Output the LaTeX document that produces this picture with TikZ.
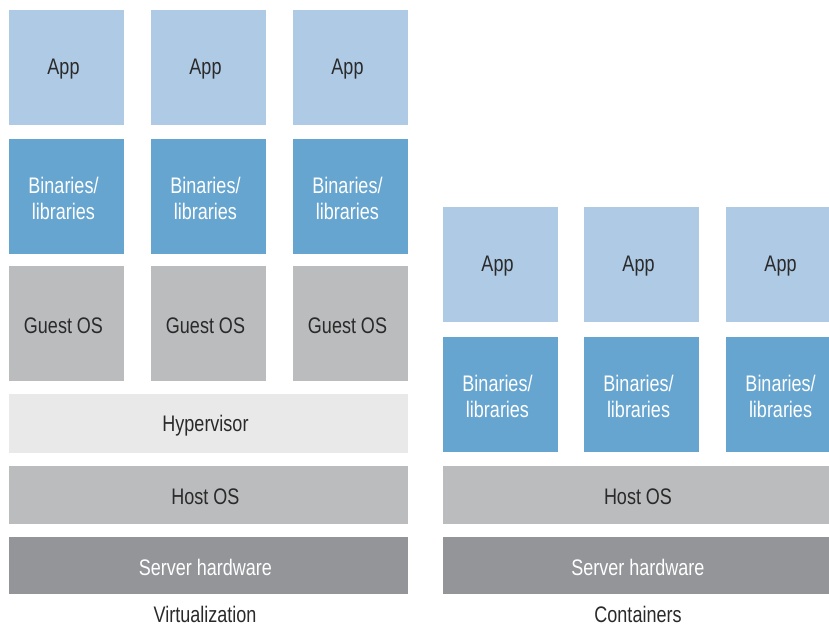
\documentclass[tikz,border=0pt]{standalone}
\usepackage{fontspec}
\setmainfont[FakeStretch=0.8]{Liberation Sans}
\definecolor{appc}{HTML}{AECAE4}
\definecolor{binc}{HTML}{66A5D0}
\definecolor{osc}{HTML}{BBBCBE}
\definecolor{hypc}{HTML}{E9E9EA}
\definecolor{hwc}{HTML}{939599}
\definecolor{txtc}{HTML}{2A2A2A}
\tikzset{
  blk/.style={rectangle, inner sep=0pt, outer sep=0pt},
  dk/.style={inner sep=0pt, align=center, text=txtc, xshift=-3pt, yshift=-2pt,
    font=\fontsize{22.5}{26}\selectfont},
  wt/.style={dk, text=white},
  appbox/.style={blk, fill=appc, minimum width=115pt, minimum height=115pt},
  binbox/.style={blk, fill=binc, minimum width=115pt, minimum height=115pt},
  guestbox/.style={blk, fill=osc, minimum width=115pt, minimum height=115pt},
  hypbox/.style={blk, fill=hypc, minimum height=59pt},
  hostbox/.style={blk, fill=osc, minimum height=58pt},
  hwbox/.style={blk, fill=hwc, minimum height=57pt},
  caption/.style={inner sep=0pt, text=txtc, font=\fontsize{22.5}{26}\selectfont}
}
\begin{document}
\begin{tikzpicture}[x=1pt,y=-1pt]
\useasboundingbox (0,0) rectangle (829,625);
\clip (0,0) rectangle (829,625);
% Virtualization
\node[appbox, label={[dk]center:App}] (va1) at (66.5,67) {};
\node[appbox, label={[dk]center:App}] (va2) at (208.5,67) {};
\node[appbox, label={[dk]center:App}] (va3) at (350.5,67) {};
\node[binbox, label={[wt]center:Binaries/\\libraries}] (vb1) at (66.5,196) {};
\node[binbox, label={[wt]center:Binaries/\\libraries}] (vb2) at (208.5,196) {};
\node[binbox, label={[wt]center:Binaries/\\libraries}] (vb3) at (350.5,196) {};
\node[guestbox, label={[dk]center:Guest OS}] (vg1) at (66.5,323.5) {};
\node[guestbox, label={[dk]center:Guest OS}] (vg2) at (208.5,323.5) {};
\node[guestbox, label={[dk]center:Guest OS}] (vg3) at (350.5,323.5) {};
\node[hypbox, minimum width=399pt, label={[dk]center:Hypervisor}] (hyp) at (208.5,423.5) {};
\node[hostbox, minimum width=399pt, label={[dk]center:Host OS}] (vhost) at (208.5,495) {};
\node[hwbox, minimum width=399pt, label={[wt]center:Server hardware}] (vhw) at (208.5,565.5) {};
\node[caption] (vcap) at (205,614) {Virtualization};
% Containers
\node[appbox, label={[dk]center:App}] (ca1) at (500.5,264.5) {};
\node[appbox, label={[dk]center:App}] (ca2) at (641.5,264.5) {};
\node[appbox, label={[dk]center:App}] (ca3) at (783.5,264.5) {};
\node[binbox, label={[wt]center:Binaries/\\libraries}] (cb1) at (500.5,394) {};
\node[binbox, label={[wt]center:Binaries/\\libraries}] (cb2) at (641.5,394) {};
\node[binbox, label={[wt]center:Binaries/\\libraries}] (cb3) at (783.5,394) {};
\node[hostbox, minimum width=396pt, label={[dk]center:Host OS}] (chost) at (641,494.5) {};
\node[hwbox, minimum width=396pt, label={[wt]center:Server hardware}] (chw) at (641,565.5) {};
\node[caption] (ccap) at (638,614) {Containers};
\end{tikzpicture}
\end{document}
